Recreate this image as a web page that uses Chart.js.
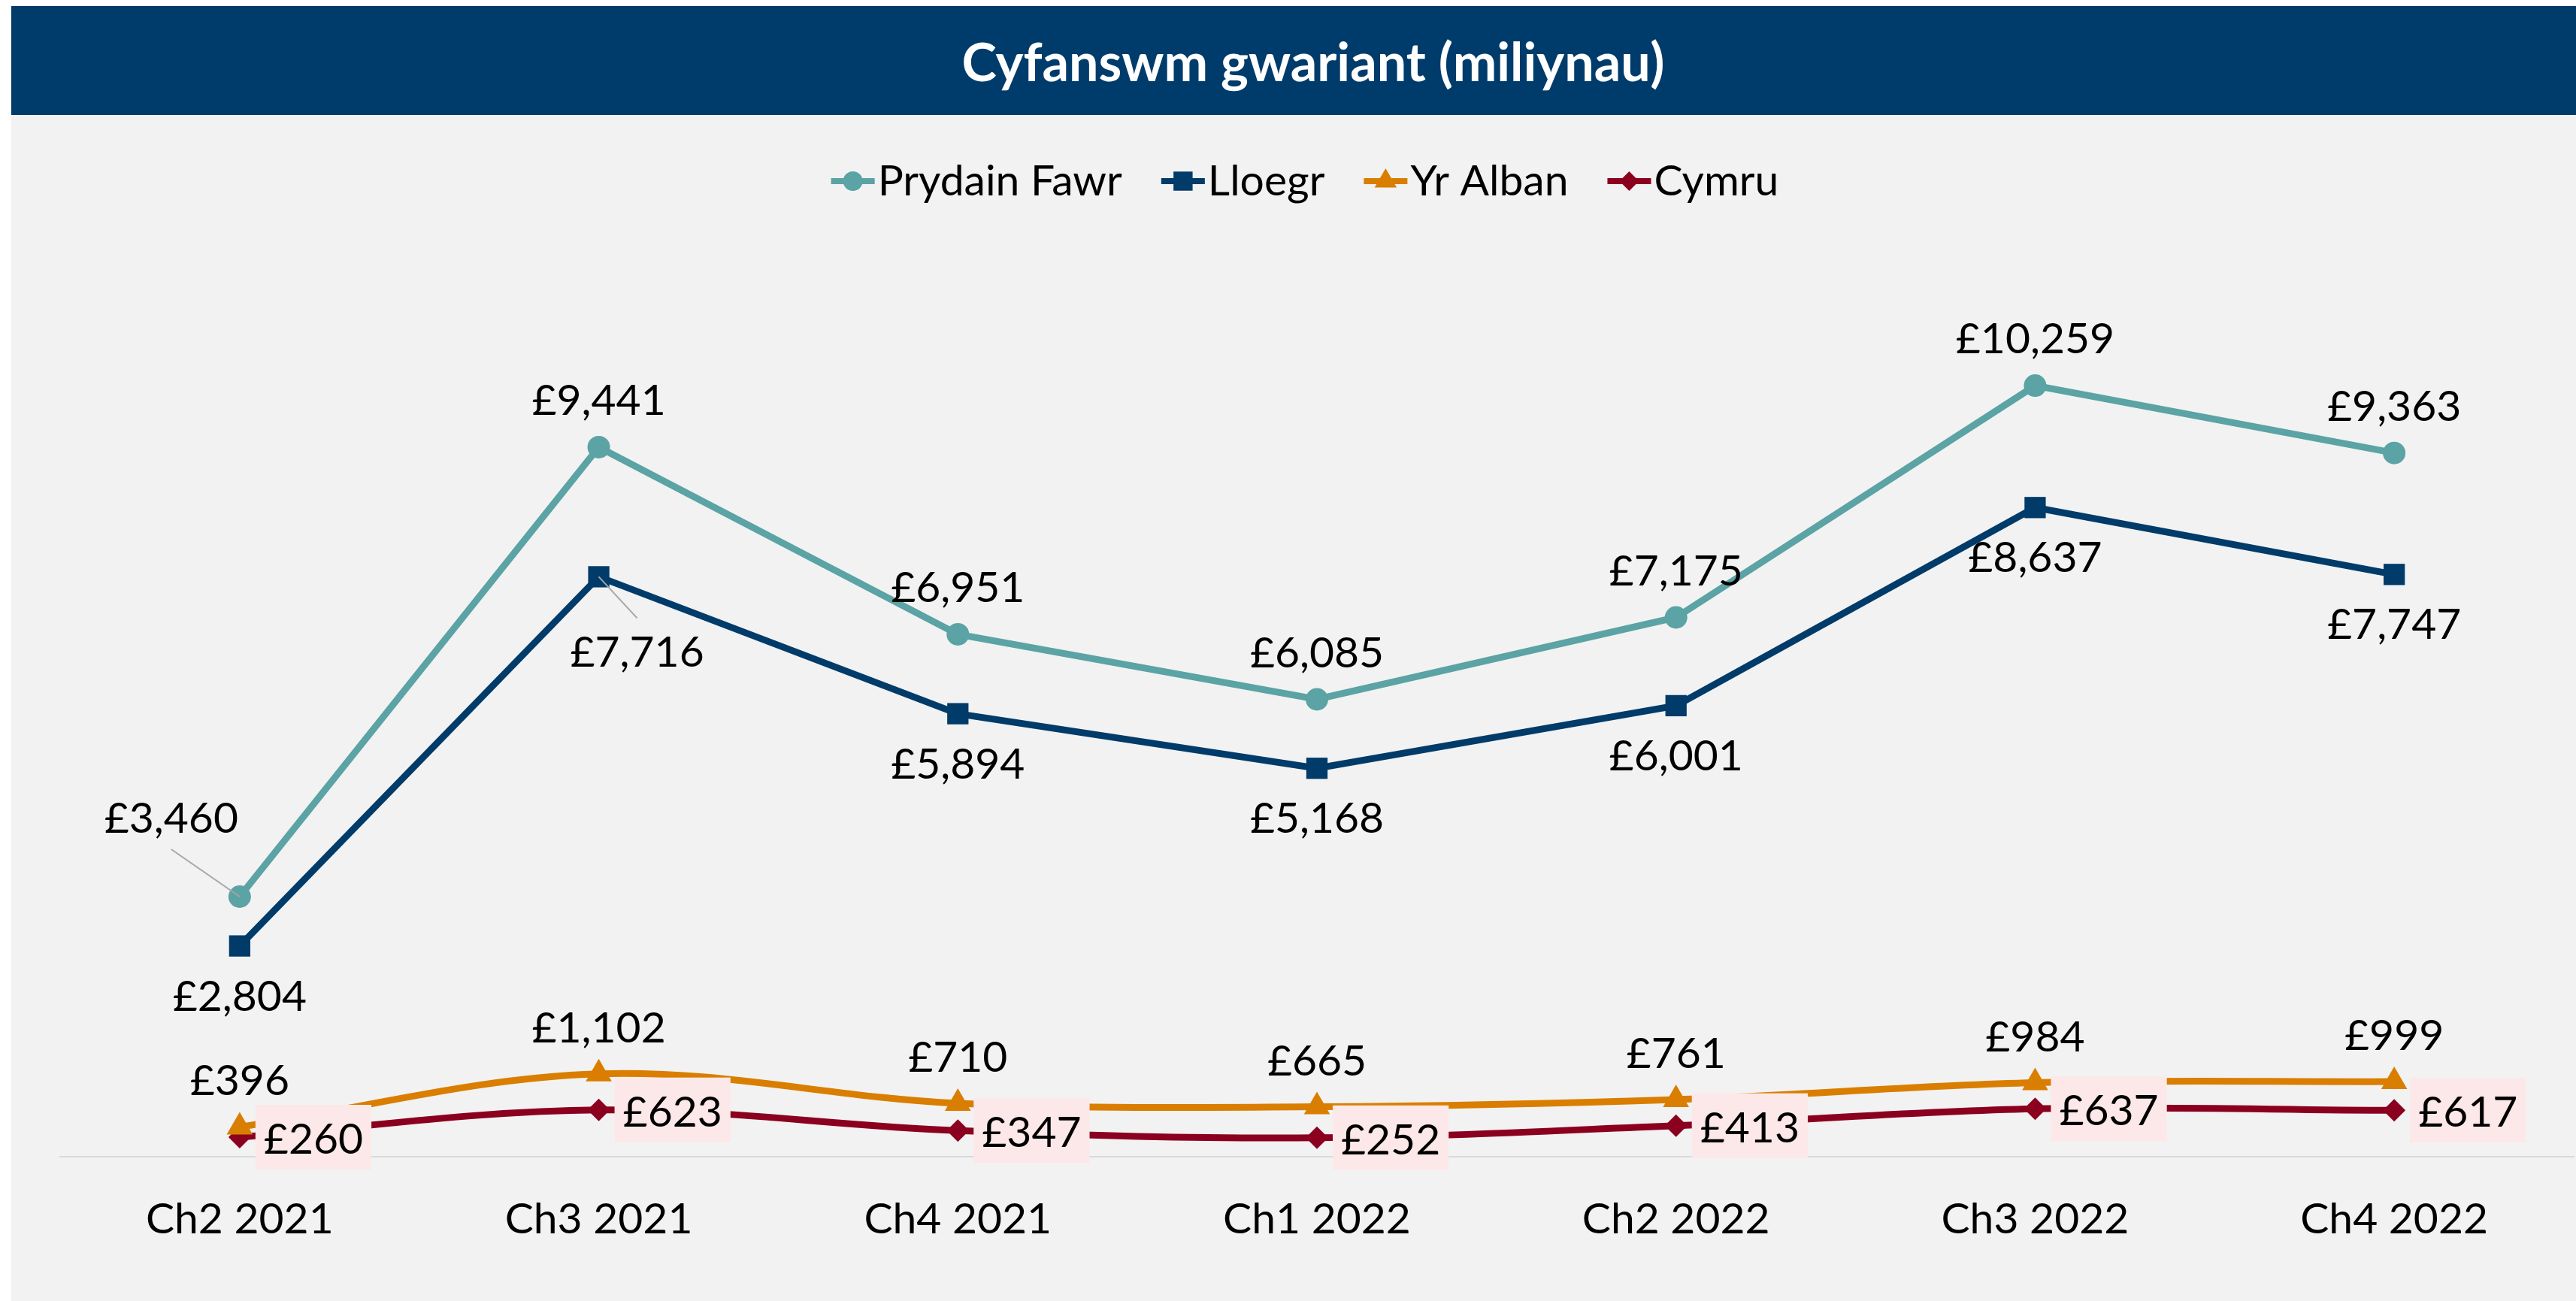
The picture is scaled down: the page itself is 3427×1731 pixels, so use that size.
<!DOCTYPE html>
<html>
<head>
<meta charset="utf-8">
<script src="https://cdn.jsdelivr.net/npm/chart.js@4.4.1/dist/chart.umd.min.js"></script>
<style>
  html, body { margin: 0; padding: 0; background: #fff; overflow: hidden; }
  #frame { position: absolute; left: 15px; top: 8px; width: 3412px; height: 1723px; background: #f2f2f2; }
  #wrap { position: absolute; left: 0; top: 0; width: 3412px; height: 1723px; }
  #title {
    position: absolute; left: 0; top: 0; width: 3412px; height: 145px;
    background: #003c6b; color: #fff; font: bold 70px Lato, sans-serif;
    display: flex; align-items: center; justify-content: center;
    padding-left: 52px; box-sizing: border-box;
  }
</style>
</head>
<body>
<div id="frame">
  <div id="wrap"><canvas id="spendChart"></canvas></div>
  <div id="title">Cyfanswm gwariant (miliynau)</div>
</div>
<script>
// quarters (Ch = chwarter)
const quarters = ['Ch2 2021', 'Ch3 2021', 'Ch4 2021', 'Ch1 2022', 'Ch2 2022', 'Ch3 2022', 'Ch4 2022'];

// total spend, £ millions
const prydainFawr = [3460, 9441, 6951, 6085, 7175, 10259, 9363];
const lloegr = [2804, 7716, 5894, 5168, 6001, 8637, 7747];
const yrAlban = [396, 1102, 710, 665, 761, 984, 999];
const cymru = [260, 623, 347, 252, 413, 637, 617];

const FONT = '57px Lato, sans-serif';
const fmt = v => '£' + v.toLocaleString('en-GB');

// where each series puts its value labels (offsets from the point, baseline of text)
const labelPlacement = [
  { dy: -43, special: { 0: { dx: -91, dy: -85, lead: [-91, -63] } } },
  { dy: 86, special: { 1: { dx: 51, dy: 120, lead: [51, 55] } } },
  { dy: -42 },
  { box: true }
];

const valueLabels = {
  id: 'valueLabels',
  afterDatasetsDraw(chart) {
    const ctx = chart.ctx;
    ctx.save();
    ctx.font = FONT;
    ctx.textBaseline = 'alphabetic';
    chart.data.datasets.forEach((ds, di) => {
      const place = labelPlacement[di];
      const meta = chart.getDatasetMeta(di);
      meta.data.forEach((pt, i) => {
        const txt = fmt(ds.data[i]);
        const w = ctx.measureText(txt).width;
        if (place.box) {
          const bx = pt.x + 21, bw = w + 22, bh = 86;
          ctx.fillStyle = '#fce8e8';
          ctx.fillRect(bx, pt.y - bh / 2, bw, bh);
          ctx.fillStyle = '#000';
          ctx.textAlign = 'left';
          ctx.fillText(txt, bx + 11, pt.y + 22);
          return;
        }
        const sp = place.special && place.special[i];
        if (sp) {
          ctx.strokeStyle = '#a6a6a6';
          ctx.lineWidth = 2;
          ctx.beginPath();
          ctx.moveTo(pt.x + sp.lead[0], pt.y + sp.lead[1]);
          ctx.lineTo(pt.x, pt.y);
          ctx.stroke();
        }
        ctx.fillStyle = '#000';
        ctx.textAlign = 'center';
        ctx.fillText(txt, pt.x + (sp ? sp.dx : 0), pt.y + (sp ? sp.dy : place.dy));
      });
    });
    ctx.restore();
  }
};

// legend drawn as line + marker, like the spreadsheet legend
const lineLegend = {
  id: 'lineLegend',
  afterDraw(chart) {
    const ctx = chart.ctx;
    ctx.save();
    ctx.font = FONT;
    const items = chart.data.datasets.map(ds => ({ ds, w: ctx.measureText(ds.label).width }));
    const symW = 58, gap = 4, itemGap = 52;
    const total = items.reduce((s, it) => s + symW + gap + it.w, 0) + itemGap * (items.length - 1);
    let x = 1721 - total / 2;
    const y = 233;
    items.forEach(it => {
      const c = it.ds.borderColor;
      ctx.strokeStyle = c;
      ctx.fillStyle = c;
      ctx.lineWidth = 8;
      ctx.beginPath();
      ctx.moveTo(x, y);
      ctx.lineTo(x + symW, y);
      ctx.stroke();
      const r = { circle: 13, rect: 18, triangle: 17, rectRot: 13 }[it.ds.pointStyle];
      Chart.helpers.drawPoint(ctx, { pointStyle: it.ds.pointStyle, radius: r, rotation: 0, borderWidth: 0 }, x + symW / 2, y);
      ctx.fillStyle = '#000';
      ctx.textAlign = 'left';
      ctx.textBaseline = 'alphabetic';
      ctx.fillText(it.ds.label, x + symW + gap, 252);
      x += symW + gap + it.w + itemGap;
    });
    ctx.restore();
  }
};

const ctx = document.getElementById('spendChart');
new Chart(ctx, {
  type: 'line',
  data: {
    labels: quarters,
    datasets: [
      { label: 'Prydain Fawr', data: prydainFawr, borderColor: '#5ba3a4', backgroundColor: '#5ba3a4',
        pointStyle: 'circle', pointRadius: 15, tension: 0 },
      { label: 'Lloegr', data: lloegr, borderColor: '#003b69', backgroundColor: '#003b69',
        pointStyle: 'rect', pointRadius: 20, tension: 0 },
      { label: 'Yr Alban', data: yrAlban, borderColor: '#d97e00', backgroundColor: '#d97e00',
        pointStyle: 'triangle', pointRadius: 20, tension: 0.35 },
      { label: 'Cymru', data: cymru, borderColor: '#8b001e', backgroundColor: '#8b001e',
        pointStyle: 'rectRot', pointRadius: 15, tension: 0.35 }
    ]
  },
  options: {
    responsive: true,
    maintainAspectRatio: false,
    animation: false,
    devicePixelRatio: 1,
    layout: { autoPadding: false, padding: { left: 65, right: 3, top: 331, bottom: 0 } },
    elements: {
      line: { borderWidth: 9 },
      point: { borderWidth: 0, hoverRadius: 15 }
    },
    plugins: {
      legend: { display: false },
      title: { display: false },
      tooltip: { enabled: false }
    },
    scales: {
      x: {
        offset: true,
        grid: { display: true, drawOnChartArea: false, drawTicks: false },
        border: { display: true, color: '#d9d9d9', width: 2 },
        ticks: { color: '#000', font: { family: 'Lato', size: 57 }, padding: 49, maxRotation: 0 },
        afterFit(scale) { scale.height = 192; scale.paddingLeft = 0; scale.paddingRight = 0; }
      },
      y: { display: false, min: 0, max: 12000 }
    }
  },
  plugins: [valueLabels, lineLegend]
});
</script>
</body>
</html>
